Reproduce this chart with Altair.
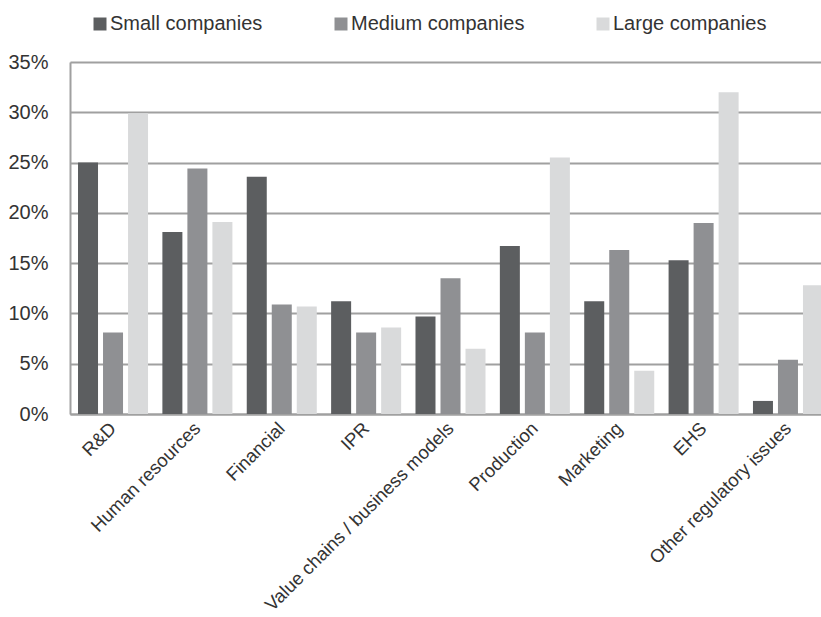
import altair as alt
import pandas as pd

categories = ["R&D", "Human resources", "Financial", "IPR",
              "Value chains / business models", "Production", "Marketing",
              "EHS", "Other regulatory issues"]
series = ["Small companies", "Medium companies", "Large companies"]
small = [25.0, 18.1, 23.6, 11.2, 9.7, 16.7, 11.2, 15.3, 1.3]
medium = [8.1, 24.4, 10.9, 8.1, 13.5, 8.1, 16.3, 19.0, 5.4]
large = [29.9, 19.1, 10.7, 8.6, 6.5, 25.5, 4.3, 32.0, 12.8]
colors = ["#5c5e60", "#8f9093", "#d9dadb"]
y_ticks = [0, 5, 10, 15, 20, 25, 30, 35]

rows = []
for s, vals in zip(series, [small, medium, large]):
    for c, v in zip(categories, vals):
        rows.append({"category": c, "series": s, "value": v})
df = pd.DataFrame(rows)

FONT = "Liberation Sans"

chart = alt.Chart(df).mark_bar().encode(
    x=alt.X("category:N", sort=categories, title=None,
            scale=alt.Scale(paddingInner=0.17, paddingOuter=0.095),
            axis=alt.Axis(labelAngle=-45, labelAlign="right", labelBaseline="middle",
                          labelPadding=11, ticks=False, domain=True,
                          domainColor="#a0a0a0", domainWidth=2,
                          labelFont=FONT, labelFontSize=18.5, labelColor="#333333",
                          labelLimit=400)),
    xOffset=alt.XOffset("series:N", sort=series,
                        scale=alt.Scale(paddingInner=0.2, paddingOuter=0)),
    y=alt.Y("value:Q", title=None,
            scale=alt.Scale(domain=[0, 35], nice=False),
            axis=alt.Axis(values=y_ticks, labelExpr="datum.value + '%'",
                          ticks=False, labelPadding=22, domain=True,
                          domainColor="#a0a0a0", domainWidth=2,
                          grid=True, gridColor="#a0a0a0", gridWidth=2,
                          labelFont=FONT, labelFontSize=20, labelColor="#333333")),
    color=alt.Color("series:N", sort=series,
                    scale=alt.Scale(domain=series, range=colors),
                    legend=alt.Legend(orient="none", legendX=20, legendY=-48,
                                      direction="horizontal", title=None,
                                      symbolType="square", symbolSize=169,
                                      symbolStrokeWidth=0, labelOffset=0,
                                      columnPadding=68, padding=0,
                                      labelLimit=400,
                                      labelFont=FONT, labelFontSize=20,
                                      labelColor="#333333")),
).properties(
    width=761, height=352,
    autosize=alt.AutoSizeParams(type="none"),
    padding={"left": 70, "top": 62, "right": -10, "bottom": 203},
).configure_view(stroke=None).configure(background="white")

chart.save("out.html", embed_options={"renderer": "svg", "actions": False})
